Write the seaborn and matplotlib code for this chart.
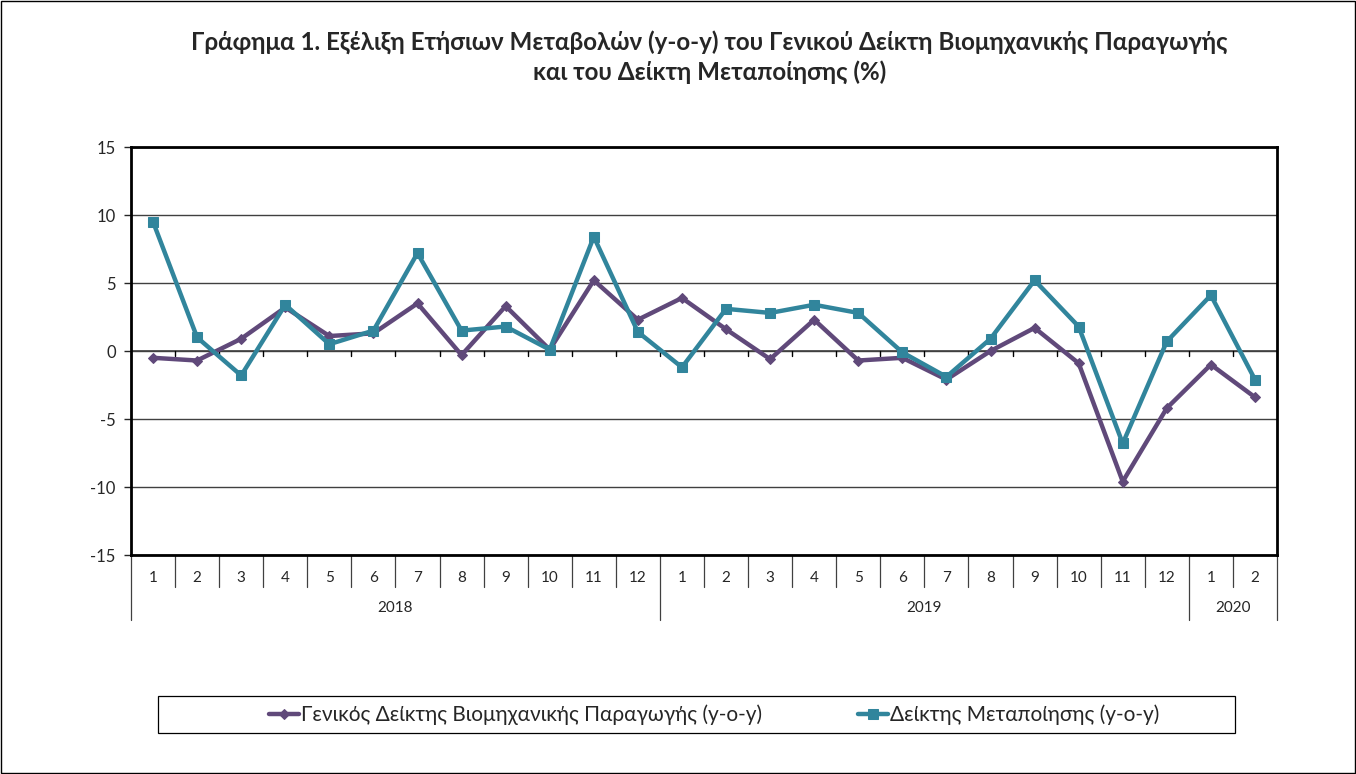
import pandas as pd
import seaborn as sns
import matplotlib.pyplot as plt
import matplotlib.transforms as mtransforms
from matplotlib.patches import Rectangle

# data
years = ['2018'] * 12 + ['2019'] * 12 + ['2020'] * 2
months = list(range(1, 13)) * 2 + [1, 2]
general = [-0.5, -0.7, 0.9, 3.2, 1.1, 1.3, 3.5, -0.3, 3.3, 0.1, 5.2, 2.3,
           3.9, 1.6, -0.6, 2.3, -0.7, -0.5, -2.1, 0.0, 1.7, -0.9, -9.6, -4.2,
           -1.0, -3.4]
manuf = [9.5, 1.0, -1.8, 3.4, 0.5, 1.5, 7.2, 1.5, 1.8, 0.1, 8.4, 1.4,
         -1.2, 3.1, 2.8, 3.4, 2.8, -0.1, -1.9, 0.9, 5.2, 1.8, -6.8, 0.7,
         4.1, -2.1]
label_gen = 'Γενικός Δείκτης Βιομηχανικής Παραγωγής (y-o-y)'
label_man = 'Δείκτης Μεταποίησης (y-o-y)'
title = ('Γράφημα 1. Εξέλιξη Ετήσιων Μεταβολών (y-o-y) του Γενικού Δείκτη Βιομηχανικής Παραγωγής\n'
         'και του Δείκτη Μεταποίησης (%)')

df = pd.DataFrame({'pos': range(len(months)), 'year': years, 'month': months,
                   'general': general, 'manuf': manuf})

sns.set_style('white')
plt.rcParams['font.family'] = ['Lato', 'DejaVu Sans']
plt.rcParams['axes.unicode_minus'] = False

purple = '#60497A'
teal = '#31859C'

fig = plt.figure(figsize=(13.56, 7.74), dpi=100)
ax = fig.add_axes([131 / 1356, 1 - 555 / 774, 1146 / 1356, 408 / 774])

sns.lineplot(data=df, x='pos', y='general', ax=ax, color=purple, lw=3.2,
             marker='D', markersize=5, markeredgecolor=purple, label=label_gen)
sns.lineplot(data=df, x='pos', y='manuf', ax=ax, color=teal, lw=3.2,
             marker='s', markersize=7, markeredgecolor=teal, label=label_man)
handles, labels = ax.get_legend_handles_labels()
ax.get_legend().remove()

n = len(df)
ax.set_xlim(-0.5, n - 0.5)
ax.set_ylim(-15, 15)
ax.set_yticks(range(-15, 16, 5))
ax.set_xticks([])
ax.set_xlabel('')
ax.set_ylabel('')
ax.yaxis.grid(True, color='#404040', lw=1)
ax.set_axisbelow(True)
for s in ax.spines.values():
    s.set_linewidth(2)
    s.set_color('black')
ax.tick_params(axis='y', left=True, length=5, width=1, direction='out',
               labelsize=12, pad=6)
ax.axhline(0, color='#404040', lw=1.2, zorder=1)

# small ticks on the zero line
bounds = [i - 0.5 for i in range(1, n)]
for b in bounds:
    ax.plot([b, b], [0, -0.35], color='black', lw=1, zorder=1)

# two-level category axis under the plot
trans = mtransforms.blended_transform_factory(ax.transData, ax.transAxes)
for i, m in zip(df['pos'], df['month']):
    ax.text(i, -0.056, str(m), transform=trans, ha='center', va='center', fontsize=11)

year_starts = [i for i in range(n) if i == 0 or years[i] != years[i - 1]]
year_edges = [i - 0.5 for i in year_starts] + [n - 0.5]
for i in range(n + 1):
    b = i - 0.5
    low = -0.159 if b in year_edges else -0.078
    ax.plot([b, b], [0, low], transform=trans, color='#404040', lw=0.9, clip_on=False)
for k, start in enumerate(year_starts):
    mid = (year_edges[k] + year_edges[k + 1]) / 2
    ax.text(mid, -0.13, years[start], transform=trans, ha='center', va='center', fontsize=11)

fig.text(0.523, 1 - 57 / 774, title, ha='center', va='center', fontsize=17.4,
         fontweight='bold', linespacing=1.3)

# legend with its own box
fig.patches.append(Rectangle((158 / 1356, 1 - 733 / 774), 1077 / 1356, 37 / 774,
                             transform=fig.transFigure, fill=False, edgecolor='black', lw=0.9))
fig.legend(handles, labels, loc='center', bbox_to_anchor=(714 / 1356, 1 - 715 / 774),
           ncol=2, frameon=False, fontsize=15, handlelength=1.45, handletextpad=0.1,
           columnspacing=4.6)

# outer chart border
fig.patches.append(Rectangle((0.0008, 0.0012), 0.9984, 0.9976, transform=fig.transFigure,
                             fill=False, edgecolor='black', lw=1))

fig.savefig('out.png', dpi=100)
